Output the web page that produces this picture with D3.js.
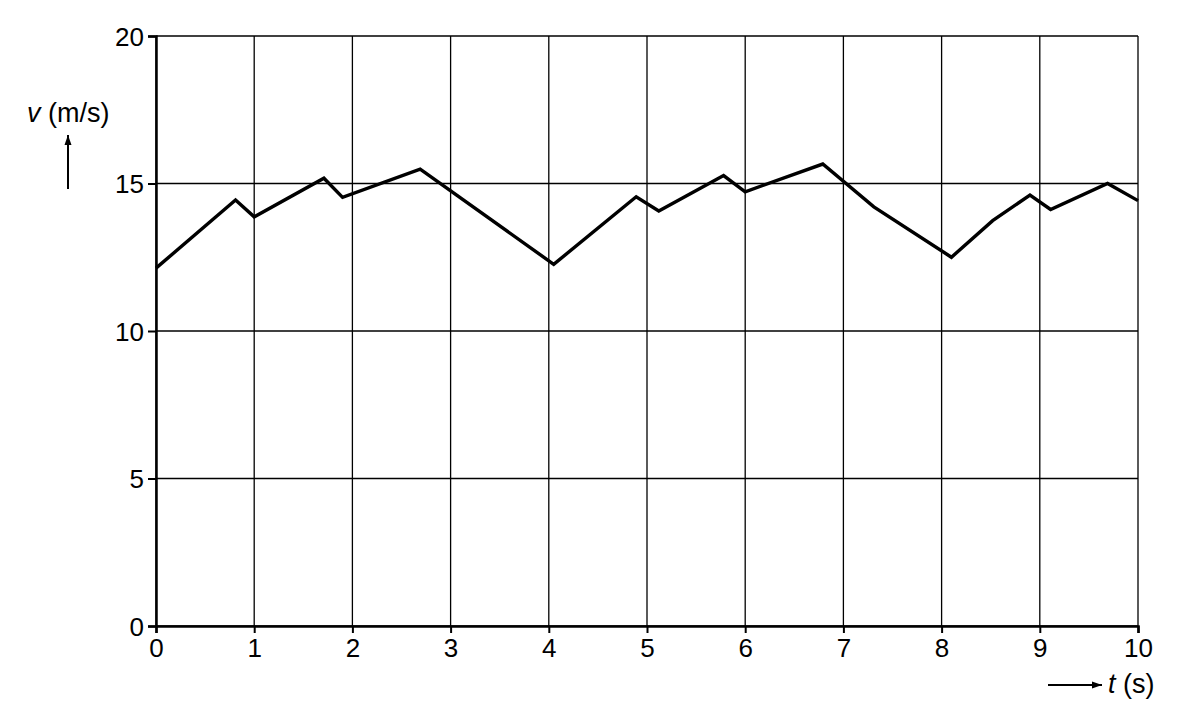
<!DOCTYPE html>
<html>
<head>
<meta charset="utf-8">
<script src="https://cdn.jsdelivr.net/npm/d3@7"></script>
<style>
  body { margin: 0; background: #fff; }
  text { font-family: "Liberation Sans", Arial, sans-serif; fill: #000; }
</style>
</head>
<body>
<script>
// velocity readings v (m/s) against time t (s)
var times = [0, 0.81, 1.0, 1.71, 1.90, 2.69, 4.05, 4.89, 5.12, 5.78, 6.00, 6.79, 7.31, 8.10, 8.52, 8.90, 9.11, 9.69, 10];
var speeds = [12.13, 14.44, 13.87, 15.18, 14.53, 15.49, 12.26, 14.55, 14.07, 15.27, 14.72, 15.66, 14.21, 12.50, 13.74, 14.61, 14.12, 15.0, 14.42];
var xTicks = [0, 1, 2, 3, 4, 5, 6, 7, 8, 9, 10];
var yTicks = [0, 5, 10, 15, 20];

var w = 1182, h = 722;

var svg = d3.select("body")
    .append("svg")
    .attr("width", w)
    .attr("height", h);

var x = d3.scaleLinear()
    .domain([0, 10])
    .range([156, 1138]);

var y = d3.scaleLinear()
    .domain([0, 20])
    .range([626, 36]);

//grid lines
svg.selectAll(".vgrid")
    .data(xTicks)
    .enter()
    .append("line")
    .attr("class", "vgrid")
    .attr("x1", function (d) { return x(d); })
    .attr("x2", function (d) { return x(d); })
    .attr("y1", y(0))
    .attr("y2", y(20))
    .style("stroke", "#000")
    .style("stroke-width", 1.3);

svg.selectAll(".hgrid")
    .data(yTicks)
    .enter()
    .append("line")
    .attr("class", "hgrid")
    .attr("x1", x(0))
    .attr("x2", x(10))
    .attr("y1", function (d) { return y(d); })
    .attr("y2", function (d) { return y(d); })
    .style("stroke", "#000")
    .style("stroke-width", 1.3);

//axes
var xAxis = d3.axisBottom(x)
    .tickValues(xTicks)
    .tickSize(7)
    .tickPadding(6)
    .tickFormat(d3.format("d"));

var yAxis = d3.axisLeft(y)
    .tickValues(yTicks)
    .tickSize(8)
    .tickPadding(4)
    .tickFormat(d3.format("d"));

var gx = svg.append("g")
    .attr("transform", "translate(0," + y(0) + ")")
    .call(xAxis);

var gy = svg.append("g")
    .attr("transform", "translate(" + x(0) + ",0)")
    .call(yAxis);

[gx, gy].forEach(function (g) {
    g.select(".domain").style("stroke", "#000").style("stroke-width", 2.5);
    g.selectAll(".tick line").style("stroke", "#000").style("stroke-width", 2);
    g.selectAll(".tick text")
        .style("font-family", "'Liberation Sans', Arial, sans-serif")
        .style("font-size", "26px")
        .style("fill", "#000");
});
gy.selectAll(".tick text").attr("dy", "0.36em");

//data line
var line = d3.line()
    .x(function (d, i) { return x(times[i]); })
    .y(function (d) { return y(d); });

svg.append("path")
    .datum(speeds)
    .attr("d", line)
    .style("fill", "none")
    .style("stroke", "#000")
    .style("stroke-width", 3.4)
    .style("stroke-linejoin", "miter");

//arrow marker
svg.append("defs").append("marker")
    .attr("id", "arrow")
    .attr("viewBox", "0 0 10 10")
    .attr("refX", 10)
    .attr("refY", 5)
    .attr("markerWidth", 10)
    .attr("markerHeight", 10)
    .attr("markerUnits", "userSpaceOnUse")
    .attr("orient", "auto")
    .append("path")
    .attr("d", "M0,1.5 L10,5 L0,8.5 Z")
    .style("fill", "#000");

//y label
var yLabel = svg.append("text")
    .attr("x", 27)
    .attr("y", 122)
    .style("font-size", "27px");
yLabel.append("tspan").style("font-style", "italic").text("v");
yLabel.append("tspan").text(" (m/s)");

svg.append("line")
    .attr("x1", 68).attr("x2", 68)
    .attr("y1", 189).attr("y2", 135)
    .style("stroke", "#000")
    .style("stroke-width", 2)
    .attr("marker-end", "url(#arrow)");

//x label
svg.append("line")
    .attr("x1", 1048).attr("x2", 1102)
    .attr("y1", 685).attr("y2", 685)
    .style("stroke", "#000")
    .style("stroke-width", 2)
    .attr("marker-end", "url(#arrow)");

var xLabel = svg.append("text")
    .attr("x", 1108)
    .attr("y", 693)
    .style("font-size", "27px");
xLabel.append("tspan").style("font-style", "italic").text("t");
xLabel.append("tspan").text(" (s)");
</script>
</body>
</html>
